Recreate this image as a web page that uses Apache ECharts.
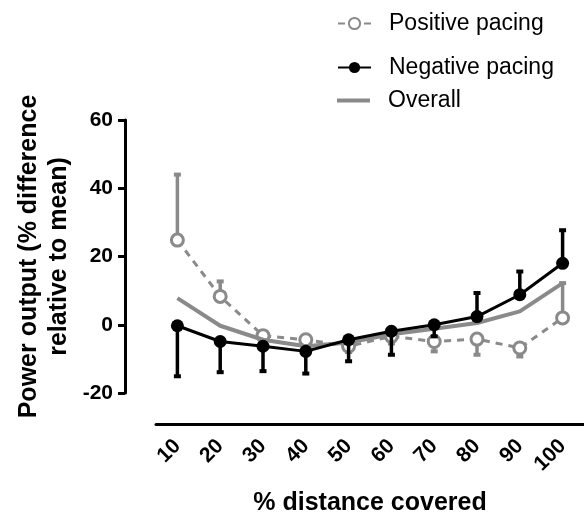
<!DOCTYPE html>
<html>
<head>
<meta charset="utf-8">
<script src="https://cdn.jsdelivr.net/npm/echarts@6/dist/echarts.min.js"></script>
<style>
  html, body { margin: 0; padding: 0; background: #fff; }
  #chart { width: 584px; height: 514px; }
</style>
</head>
<body>
<div id="chart"></div>
<script>
  // % distance covered
  var distance = ['10', '20', '30', '40', '50', '60', '70', '80', '90', '100'];
  // mean values (% difference relative to mean)
  var positive = [24.8, 8.3, -3.2, -4.4, -6.3, -3.4, -4.9, -4.2, -6.8, 2.0];
  var negative = [-0.3, -4.9, -6.3, -7.8, -4.4, -1.9, 0.0, 2.4, 8.8, 18.0];
  var overall = [7.8, -0.3, -4.4, -6.3, -5.2, -2.8, -1.2, 0.5, 3.9, 12.2];
  // end of the one-sided error bars
  var positiveErr = [44.0, 12.7, -5.0, -6.0, -8.0, -5.5, -7.8, -8.8, -9.3, 12.2];
  var negativeErr = [-15.1, -13.9, -13.6, -14.3, -10.7, -8.8, -3.4, 9.3, 15.6, 27.7];

  var gray = '#8a8a8a';
  var font = 'Liberation Sans, Arial, sans-serif';

  function errData(mean, err) {
    return mean.map(function (v, i) { return [i, v, err[i]]; });
  }

  // one-sided error bar with a small cap
  function errRender(color) {
    return function (params, api) {
      var i = api.value(0);
      var p0 = api.coord([i, api.value(1)]);
      var p1 = api.coord([i, api.value(2)]);
      return {
        type: 'group',
        children: [
          { type: 'line', shape: { x1: p0[0], y1: p0[1], x2: p1[0], y2: p1[1] },
            style: { stroke: color, lineWidth: 3.5 } },
          { type: 'line', shape: { x1: p1[0] - 3.5, y1: p1[1], x2: p1[0] + 3.5, y2: p1[1] },
            style: { stroke: color, lineWidth: 4 } }
        ]
      };
    };
  }

  var legendBase = {
    orient: 'vertical',
    left: 337,
    padding: 0,
    itemWidth: 33,
    itemHeight: 14,
    textStyle: { fontFamily: font, fontSize: 23, color: '#000', padding: [0, 0, 0, 13] }
  };

  var chart = echarts.init(document.getElementById('chart'));
  chart.setOption({
    animation: false,
    backgroundColor: '#fff',
    legend: [
      Object.assign({}, legendBase, { top: 12, data: ['Positive pacing'] }),
      Object.assign({}, legendBase, { top: 56, data: ['Negative pacing'] }),
      Object.assign({}, legendBase, { top: 89, data: [{ name: 'Overall', icon: 'rect' }], itemHeight: 4 })
    ],
    grid: { left: 156, right: 0, top: 120, bottom: 121, outerBoundsMode: 'none', containLabel: false },
    xAxis: {
      type: 'category',
      data: distance,
      offset: 31,
      boundaryGap: true,
      name: '% distance covered',
      nameLocation: 'middle',
      nameGap: 67,
      nameMoveOverlap: false,
      nameTextStyle: { fontFamily: font, fontSize: 25, fontWeight: 'bold', color: '#000' },
      axisLine: { onZero: false, lineStyle: { color: '#000', width: 3 } },
      axisTick: { alignWithLabel: true, length: 8, lineStyle: { color: '#000', width: 3 } },
      axisLabel: { rotate: 45, margin: 19, fontFamily: font, fontSize: 21, fontWeight: 'bold', color: '#000' },
      splitLine: { show: false }
    },
    yAxis: {
      type: 'value',
      min: -20,
      max: 60,
      interval: 20,
      offset: 31,
      name: 'Power output (% difference\nrelative to mean)',
      nameLocation: 'middle',
      nameGap: 51,
      nameMoveOverlap: false,
      nameTextStyle: { fontFamily: font, fontSize: 25, fontWeight: 'bold', color: '#000', lineHeight: 30 },
      axisLine: { show: true, onZero: false, lineStyle: { color: '#000', width: 3 } },
      axisTick: { show: true, length: 7, lineStyle: { color: '#000', width: 3 } },
      axisLabel: { margin: 12, fontFamily: font, fontSize: 21, fontWeight: 'bold', color: '#000' },
      splitLine: { show: false }
    },
    series: [
      {
        name: 'Positive pacing',
        type: 'line',
        data: positive,
        z: 2,
        symbol: 'circle',
        symbolSize: 12,
        itemStyle: { color: '#fff', borderColor: gray, borderWidth: 3 },
        lineStyle: { color: gray, width: 3, type: [7, 6] }
      },
      {
        type: 'custom',
        z: 1,
        renderItem: errRender(gray),
        data: errData(positive, positiveErr)
      },
      {
        name: 'Overall',
        type: 'line',
        data: overall,
        z: 3,
        symbol: 'none',
        itemStyle: { color: gray },
        lineStyle: { color: gray, width: 4 }
      },
      {
        name: 'Negative pacing',
        type: 'line',
        data: negative,
        z: 5,
        symbol: 'circle',
        symbolSize: 13,
        itemStyle: { color: '#000' },
        lineStyle: { color: '#000', width: 3 }
      },
      {
        type: 'custom',
        z: 4,
        renderItem: errRender('#000'),
        data: errData(negative, negativeErr)
      }
    ]
  });
</script>
</body>
</html>
